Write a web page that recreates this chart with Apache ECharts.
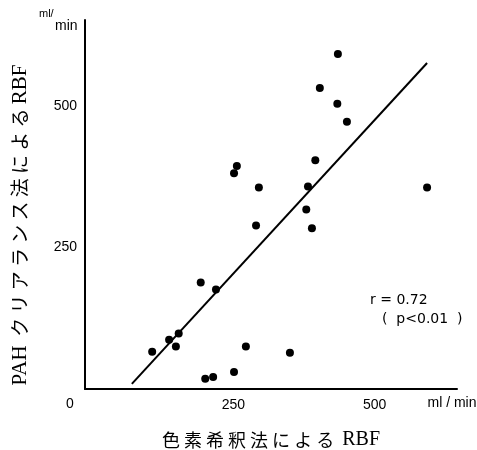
<!DOCTYPE html>
<html>
<head>
<meta charset="utf-8">
<script src="https://cdn.jsdelivr.net/npm/echarts@6/dist/echarts.min.js"></script>
<style>
    html, body { margin: 0; padding: 0; background: #fff; }
    #chart { width: 477px; height: 450px; }
</style>
</head>
<body>
<div id="chart"></div>
<script>
// 色素希釈法 RBF (x) vs PAH クリアランス法 RBF (y), ml/min
let dyeRBF = [435, 403, 434, 451, 395, 256, 251, 295, 382, 593, 379, 290,
    389, 192, 219, 153, 136, 106, 148, 272, 350, 251, 200, 214];
let pahRBF = [592, 532, 504, 472, 404, 394, 381, 356, 358, 356, 317, 289,
    284, 188, 176, 98, 87, 66, 75, 75, 64, 30, 18, 21];
// regression line end points
let fitX = [70, 593];
let fitY = [9, 576];
let tickValues = [250, 500];

let points = dyeRBF.map((x, i) => [x, pahRBF[i]]);
let fitLine = fitX.map((x, i) => [x, fitY[i]]);

const serif = '"Liberation Serif", "DejaVu Serif", "Noto Sans CJK JP", serif';
const jp = '"Noto Sans CJK JP", "Liberation Serif", serif';
const sans = '"Liberation Sans", Arial, sans-serif';
const dejavu = '"DejaVu Sans", sans-serif';

let nameRich = {
    lat: { fontFamily: serif, fontSize: 20, color: '#000' },
    jp: { fontFamily: jp, fontSize: 18, color: '#000' }
};

let option = {
    animation: false,
    backgroundColor: '#fff',
    grid: {
        left: 85,
        right: 20,
        top: 20,
        bottom: 61,
        outerBoundsMode: 'none'
    },
    xAxis: {
        type: 'value',
        min: -13,
        max: 646,
        axisLine: { onZero: false, lineStyle: { color: '#000', width: 2 } },
        axisTick: { show: false },
        splitLine: { show: false },
        axisLabel: {
            customValues: tickValues,
            color: '#000',
            fontFamily: sans,
            fontSize: 14,
            margin: 9
        },
        name: '{jp|色 素 希 釈 法 に よ る\u00a0\u00a0}{lat|RBF}',
        nameLocation: 'middle',
        nameGap: 41,
        nameTextStyle: { color: '#000', rich: nameRich }
    },
    yAxis: {
        type: 'value',
        min: 0,
        max: 652,
        axisLine: { show: true, onZero: false, lineStyle: { color: '#000', width: 2 } },
        axisTick: { show: false },
        splitLine: { show: false },
        axisLabel: {
            customValues: tickValues,
            color: '#000',
            fontFamily: sans,
            fontSize: 14,
            margin: 8
        }
    },
    graphic: [
        {
            type: 'text', x: 20, y: 225, rotation: Math.PI / 2,
            style: {
                text: '{lat|PAH}{jp|\u00a0\u00a0ク リ ア ラ ン ス 法 に よ る\u00a0}{lat|RBF}',
                rich: {
                    lat: { fontFamily: serif, fontSize: 21, fill: '#000' },
                    jp: { fontFamily: jp, fontSize: 19, fill: '#000' }
                },
                fill: '#000',
                align: 'center', verticalAlign: 'middle'
            }
        },
        {
            type: 'text', x: 70, y: 404,
            style: { text: '0', font: '14px ' + sans, fill: '#000', align: 'center', verticalAlign: 'middle' }
        },
        {
            type: 'text', x: 452, y: 403,
            style: { text: 'ml / min', font: '14px ' + sans, fill: '#000', align: 'center', verticalAlign: 'middle' }
        },
        {
            type: 'text', x: 39, y: 14,
            style: { text: 'ml/', font: '11px ' + sans, fill: '#000', align: 'left', verticalAlign: 'middle' }
        },
        {
            type: 'text', x: 55, y: 26,
            style: { text: 'min', font: '14px ' + sans, fill: '#000', align: 'left', verticalAlign: 'middle' }
        },
        {
            type: 'text', x: 370, y: 300,
            style: { text: 'r = 0.72', font: '14px ' + dejavu, fill: '#000', align: 'left', verticalAlign: 'middle' }
        },
        {
            type: 'text', x: 382, y: 319,
            style: { text: '(  p<0.01  )', font: '14px ' + dejavu, fill: '#000', align: 'left', verticalAlign: 'middle' }
        }
    ],
    series: [
        {
            type: 'line',
            data: fitLine,
            symbol: 'none',
            lineStyle: { color: '#000', width: 2 }
        },
        {
            type: 'scatter',
            data: points,
            symbolSize: 8,
            itemStyle: { color: '#000', opacity: 1 }
        }
    ]
};
echarts.init(document.getElementById('chart')).setOption(option);
</script>
</body>
</html>
